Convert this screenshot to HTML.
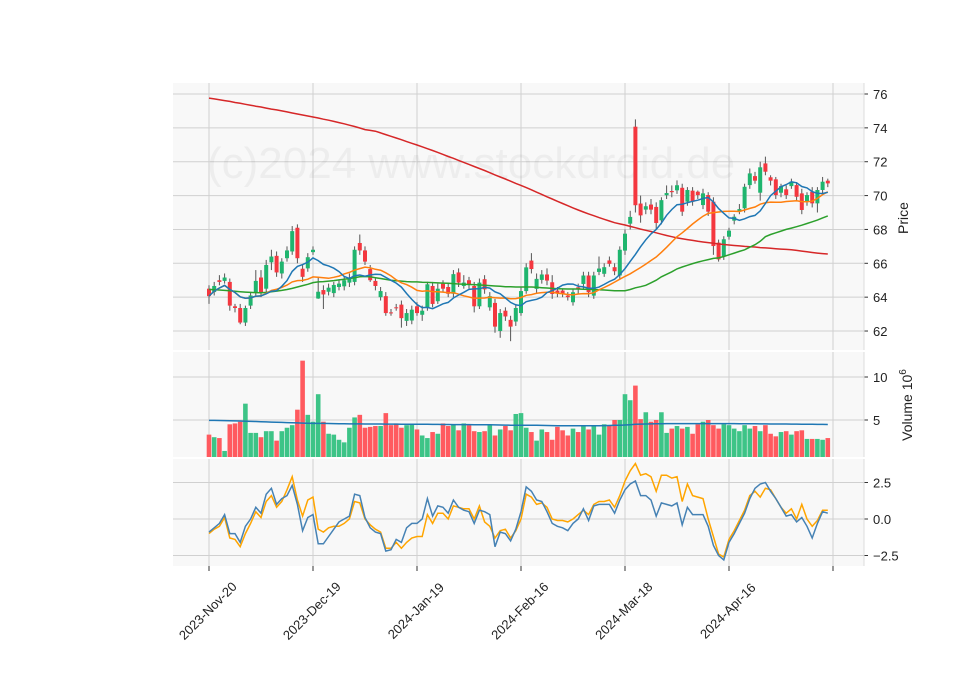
<!DOCTYPE html>
<html><head><meta charset="utf-8">
<style>
html,body{margin:0;padding:0;background:#fff;}
svg{display:block;font-family:"Liberation Sans","DejaVu Sans",sans-serif;}
</style></head>
<body>
<svg id="chart" width="960" height="690" viewBox="0 0 960 690" xmlns="http://www.w3.org/2000/svg"></svg>
<script>
const dates=["2023-Nov-20","2023-Dec-19","2024-Jan-19","2024-Feb-16","2024-Mar-18","2024-Apr-16"];
const dateIdx=[0,20,40,60,80,100];
const priceTicks=[62,64,66,68,70,72,74,76];
const volTicks=[5,10];
const macdTicks=[-2.5,0,2.5];
const macdTickLabels=["−2.5","0.0","2.5"];
const opens=[64.5,64.3,65.0,64.96,64.9,63.46,63.36,62.5,63.5,64.3,65.16,64.5,66.06,66.44,65.4,66.3,66.7,68.1,65.68,65.7,66.66,63.92,64.42,64.32,64.24,64.6,64.64,64.86,64.9,67.2,66.76,65.66,64.96,64.0,64.06,63.1,63.4,63.56,62.6,62.62,63.46,62.96,63.36,64.66,63.76,64.8,64.6,64.2,65.46,64.66,65.0,64.66,63.46,65.06,63.4,63.66,62.0,63.2,62.66,62.56,63.06,64.36,66.16,64.49,65.02,65.34,64.88,64.39,64.39,64.09,63.7,64.58,64.78,65.28,64.09,65.49,65.38,66.17,65.77,65.28,66.75,68.34,74.07,69.53,69.17,69.47,69.33,68.54,70.02,70.27,70.31,70.46,69.64,70.29,70.23,69.44,70.03,69.64,67.22,66.4,67.57,68.52,69.05,69.25,70.62,71.15,70.17,71.9,71.08,70.96,70.17,70.37,70.56,70.62,70.13,69.64,70.23,69.54,70.33,70.88];
const closes=[64.06,64.66,64.9,65.16,63.5,63.36,62.5,63.36,64.1,64.96,64.26,65.9,66.4,65.46,66.1,66.76,67.9,66.3,65.2,66.36,66.8,64.32,64.16,64.56,64.72,64.8,65.0,65.16,66.8,66.76,66.1,65.0,64.66,64.36,63.06,63.06,63.36,62.76,63.06,63.26,63.06,63.2,64.76,63.6,64.5,64.5,64.2,65.36,64.86,64.86,64.76,63.46,64.86,64.46,64.06,62.26,63.06,62.86,62.26,63.36,64.36,65.76,65.66,65.08,65.34,64.98,64.19,64.23,64.19,64.0,64.29,64.49,65.28,64.29,65.28,65.69,65.77,65.97,65.53,66.8,67.75,68.74,69.43,68.83,69.37,69.17,68.38,69.73,70.15,70.2,70.61,69.05,70.33,69.64,70.03,70.13,69.05,67.02,66.23,67.42,67.93,68.75,69.2,70.52,71.31,70.88,71.67,71.41,70.88,70.03,70.56,70.03,70.82,69.93,69.15,70.03,69.54,70.33,70.82,70.72];
const highs=[64.7,64.9,65.3,65.4,65.1,63.6,63.6,63.5,64.3,65.6,65.6,66.2,66.8,66.7,66.3,67.0,68.2,68.3,65.9,66.6,67.0,65.2,64.7,64.8,64.9,65.0,65.2,65.4,67.0,67.7,67.0,65.9,65.1,64.6,64.3,63.3,63.6,63.8,63.3,63.5,63.7,63.5,64.9,64.9,64.8,65.0,64.8,65.6,65.7,65.3,65.2,64.9,65.1,65.3,64.3,63.9,63.3,63.4,62.9,63.6,64.6,66.0,66.6,65.4,65.6,65.7,65.3,64.6,64.5,64.3,64.5,64.8,65.5,65.5,65.5,66.4,66.0,66.4,66.0,67.0,68.0,69.1,74.5,70.0,69.6,69.8,69.6,69.9,70.6,70.6,70.9,70.7,70.5,70.5,70.3,70.4,70.2,69.9,67.4,67.6,68.1,68.9,69.5,70.7,71.6,71.4,72.0,72.3,71.2,71.1,70.7,70.6,71.0,70.8,70.4,70.2,70.5,70.5,71.1,71.0];
const lows=[63.6,64.1,64.7,64.8,63.2,63.1,62.4,62.3,63.3,64.1,64.0,64.3,65.6,65.2,65.1,66.1,66.5,66.0,64.9,65.5,66.5,63.9,63.3,64.1,64.0,64.4,64.4,64.6,64.7,66.5,65.9,64.9,64.4,63.8,62.9,62.9,63.2,62.2,62.3,62.4,62.9,62.6,63.2,63.4,63.6,64.3,64.0,64.0,64.6,64.5,64.5,63.1,63.3,64.2,63.2,61.9,61.6,62.6,61.4,62.3,62.9,64.2,65.4,64.2,64.8,64.7,63.9,64.0,64.0,63.8,63.5,64.2,64.5,64.0,63.9,65.3,65.2,65.8,65.3,65.1,66.5,68.0,69.0,68.4,68.9,68.9,68.0,68.3,69.8,69.9,70.1,68.8,69.4,69.4,69.8,69.2,68.8,66.5,66.1,66.2,67.4,68.3,68.9,69.0,70.4,70.7,69.7,71.2,70.6,69.8,69.9,69.8,70.4,69.7,68.9,69.4,69.3,69.0,70.1,70.5];
const ma50=[64.46,64.44,64.42,64.4,64.38,64.35,64.32,64.3,64.28,64.27,64.26,64.28,64.32,64.36,64.4,64.45,64.52,64.6,64.68,64.76,64.86,64.9,64.92,64.95,64.98,65.02,65.06,65.1,65.15,65.2,65.22,65.2,65.15,65.1,65.05,65.0,64.97,64.95,64.92,64.9,64.9,64.88,64.87,64.86,64.84,64.83,64.82,64.8,64.78,64.76,64.75,64.74,64.72,64.7,64.68,64.66,64.64,64.62,64.61,64.6,64.6,64.6,64.6,64.58,64.56,64.54,64.52,64.5,64.49,64.48,64.48,64.48,64.47,64.46,64.45,64.44,64.42,64.4,64.38,64.38,64.38,64.45,64.55,64.62,64.7,64.85,65.0,65.2,65.35,65.5,65.67,65.78,65.88,65.98,66.07,66.15,66.22,66.29,66.32,66.4,66.5,66.6,66.7,66.8,66.95,67.1,67.3,67.57,67.7,67.8,67.9,68.0,68.08,68.16,68.25,68.35,68.45,68.55,68.68,68.8];
const ma200=[75.76,75.71,75.66,75.61,75.56,75.5,75.45,75.39,75.34,75.28,75.23,75.17,75.11,75.06,75.0,74.94,74.88,74.82,74.76,74.7,74.64,74.58,74.51,74.45,74.38,74.31,74.24,74.16,74.08,73.99,73.9,73.85,73.8,73.7,73.6,73.5,73.4,73.3,73.19,73.09,72.99,72.88,72.77,72.66,72.55,72.43,72.31,72.2,72.08,71.96,71.84,71.72,71.6,71.48,71.35,71.22,71.1,70.98,70.85,70.72,70.6,70.47,70.34,70.2,70.07,69.93,69.8,69.66,69.53,69.4,69.27,69.15,69.03,68.92,68.81,68.7,68.6,68.5,68.4,68.33,68.26,68.18,68.1,68.02,67.95,67.88,67.8,67.72,67.64,67.57,67.5,67.45,67.4,67.35,67.3,67.26,67.22,67.18,67.14,67.11,67.08,67.05,67.03,67.0,66.98,66.96,66.93,66.91,66.89,66.86,66.84,66.82,66.8,66.76,66.72,66.68,66.64,66.6,66.57,66.55];
const volumes=[3.3,3.0,2.9,1.4,4.5,4.6,4.8,6.9,3.5,3.5,3.0,3.7,3.7,2.6,3.7,4.1,4.4,6.2,11.9,5.6,4.8,8.0,4.8,3.4,3.3,2.7,2.4,4.1,5.3,5.6,4.1,4.2,4.3,4.3,5.8,4.4,4.6,4.1,4.4,4.5,3.9,3.2,2.9,3.6,3.4,4.6,4.3,4.5,3.8,4.6,4.4,3.7,3.6,3.7,4.4,3.2,3.9,4.3,3.8,5.7,5.8,4.1,3.6,2.6,3.9,3.6,2.7,4.2,3.8,3.2,4.0,3.6,4.4,3.9,4.4,3.3,4.5,4.4,5.0,5.0,8.0,7.3,9.0,5.1,5.9,4.8,5.0,5.9,3.5,4.0,4.3,4.0,4.2,3.4,4.5,4.8,5.0,4.4,4.0,4.5,4.4,4.0,3.7,4.4,4.0,4.3,3.7,4.4,3.4,3.1,3.6,3.7,3.3,3.7,3.8,2.8,2.8,2.8,2.7,2.9];
const volMA=[4.95,4.95,4.94,4.93,4.92,4.9,4.88,4.86,4.84,4.82,4.8,4.78,4.76,4.74,4.72,4.7,4.68,4.66,4.64,4.62,4.6,4.6,4.6,4.59,4.58,4.57,4.56,4.55,4.55,4.55,4.54,4.54,4.53,4.53,4.52,4.52,4.52,4.51,4.51,4.5,4.5,4.5,4.5,4.49,4.49,4.48,4.48,4.47,4.47,4.46,4.46,4.45,4.45,4.44,4.44,4.43,4.42,4.41,4.4,4.4,4.4,4.4,4.39,4.38,4.37,4.36,4.35,4.34,4.33,4.32,4.32,4.32,4.32,4.32,4.33,4.34,4.35,4.36,4.38,4.4,4.42,4.45,4.5,4.52,4.54,4.55,4.56,4.57,4.58,4.58,4.58,4.58,4.58,4.58,4.58,4.58,4.58,4.58,4.58,4.58,4.58,4.58,4.57,4.57,4.56,4.56,4.55,4.55,4.54,4.54,4.53,4.53,4.52,4.52,4.51,4.5,4.5,4.49,4.49,4.48];
const macdA=[-0.9,-0.6,-0.3,0.3,-1.0,-1.0,-1.6,-0.5,0,0.8,0.4,1.7,2.1,1.0,1.4,1.6,2.3,1.0,-0.8,0.1,0.3,-1.7,-1.7,-1.2,-0.7,-0.2,0,0.2,1.7,1.6,0.1,-0.6,-0.9,-1.0,-2.2,-2.1,-1.4,-1.6,-0.6,-0.3,-0.3,0.0,1.4,0.2,0.9,0.8,0.4,1.3,0.8,0.6,0.5,-0.3,0.6,0.5,0.3,-1.9,-0.9,-1.0,-1.5,-0.7,0.5,2.2,1.9,1.3,1.2,0.5,-0.3,-0.5,-0.6,-0.8,-0.3,0,0.7,-0.1,0.9,1.0,1.0,1.0,0.4,1.3,2.0,2.4,2.6,1.6,1.6,1.3,0.2,1.1,1.0,0.9,1.1,-0.4,0.8,0.3,0.3,0.3,-0.5,-1.8,-2.5,-2.8,-1.6,-1.0,-0.3,0.4,1.4,2.1,2.4,2.5,1.9,1.4,0.8,0.2,0.3,-0.2,0.1,-0.5,-1.3,-0.3,0.5,0.4];
const macdB=[-1.0,-0.7,-0.5,0.1,-1.3,-1.4,-1.9,-1.0,-0.3,0.5,0.1,1.2,1.6,0.8,1.2,2.0,2.9,1.3,0.2,1.3,1.5,-0.7,-0.9,-0.6,-0.5,-0.5,-0.3,0,1.2,1.1,0.0,-0.4,-0.7,-0.9,-2.0,-2.0,-1.6,-2.0,-1.6,-1.3,-1.2,-1.2,0.3,-0.3,0.4,0.4,0.0,0.9,0.8,0.7,0.7,0.0,0.9,-0.2,-0.5,-1.3,-0.8,-0.7,-1.3,-0.8,0.0,1.7,1.5,1.0,1.1,0.8,0.0,-0.1,-0.1,-0.2,0.0,0.3,0.6,0.3,1.0,1.2,1.2,1.3,0.8,1.6,2.6,3.3,3.8,3.0,3.1,2.9,1.9,3.0,3.0,2.8,2.9,1.2,2.4,1.6,1.5,1.4,0.0,-1.2,-2.4,-2.6,-1.4,-0.8,-0.1,0.6,1.6,1.9,1.5,2.1,2.0,1.4,0.8,0.4,0.7,0.0,1.0,0.0,-0.5,-0.1,0.6,0.6];

const NS="http://www.w3.org/2000/svg";
const svg=document.getElementById('chart');
function mk(tag,attrs,parent){const e=document.createElementNS(NS,tag);for(const k in attrs)e.setAttribute(k,attrs[k]);(parent||svg).appendChild(e);return e;}
const L=173,R=864;
const xOf=i=>209+i*5.2;
const yP=p=>94+(76-p)*16.93;
const yV=v=>463-v*8.6;
const yM=v=>519-v*14.6;
const panels=[[83,350,'price-panel'],[352,457,'volume-panel'],[459,566,'macd-panel']];
panels.forEach(p=>{const r=mk('rect',{x:L,y:p[0],width:R-L,height:p[1]-p[0],fill:'#f8f8f8'});

});
const vgrid=dateIdx.concat([120]);
vgrid.forEach(i=>{panels.forEach(p=>{mk('line',{x1:xOf(i),x2:xOf(i),y1:p[0],y2:p[1],stroke:'#d0d0d0','stroke-width':1});});});
function hgrid(vals,yf,top,bot,labels){vals.forEach((v,k)=>{const y=yf(v);if(y<top||y>bot)return;
mk('line',{x1:L,x2:R,y1:y,y2:y,stroke:'#d0d0d0','stroke-width':1});
mk('line',{x1:R,x2:R+4,y1:y,y2:y,stroke:'#333','stroke-width':1});
const t=mk('text',{x:R+9,y:y+5,'font-size':13,fill:'#222'});t.textContent=labels?labels[k]:v;

});}
hgrid(priceTicks,yP,83,350);
hgrid(volTicks,yV,352,457);
hgrid(macdTicks,yM,459,566,macdTickLabels);
const wm=mk('text',{x:207,y:178,'font-size':44,fill:'#000','fill-opacity':0.045});wm.textContent='(c)2024 www.stockdroid.de';


closes.forEach((c,i)=>{const o=opens[i];const up=c>=o;const col=up?'#1fb56e':'#f4373f';const x=xOf(i);
const g=mk('g',{});


mk('line',{x1:x,x2:x,y1:yP(highs[i]),y2:yP(lows[i]),stroke:'#555','stroke-width':1},g);
const t=Math.min(yP(o),yP(c));const h=Math.max(1,Math.abs(yP(o)-yP(c)));
mk('rect',{x:x-2,y:t,width:4,height:h,fill:col},g);});
function line(arr,yf,col,name,w){const d=arr.map((v,i)=>(i?'L':'M')+xOf(i).toFixed(1)+' '+yf(v).toFixed(1)).join(' ');
const p=mk('path',{d:d,fill:'none',stroke:col,'stroke-width':w||1.5});

}
function sma(n){return closes.map((c,i)=>{const s=closes.slice(Math.max(0,i-n+1),i+1);return s.reduce((a,b)=>a+b,0)/s.length;});}
line(ma200,yP,'#d62728','ma200-line');
line(ma50,yP,'#2ca02c','ma50-line');
line(sma(20),yP,'#ff7f0e','ma20-line');
line(sma(10),yP,'#1f77b4','ma10-line');
volumes.forEach((v,i)=>{const up=closes[i]>=opens[i];const y=Math.max(352,yV(v));
const r=mk('rect',{x:xOf(i)-2.3,y:y,width:4.6,height:Math.max(0,457-y),fill:up?'#3dc487':'#ff5a5f'});

});
line(volMA,yV,'#1f77b4','volume-ma-line');
line(macdB,yM,'#ffa500','macd-signal-line');
line(macdA,yM,'#4682b4','macd-line');
panels.forEach(p=>{mk('line',{x1:R,x2:R,y1:p[0],y2:p[1],stroke:'#ddd'});});
dates.forEach((d,k)=>{const x=xOf(dateIdx[k]);mk('line',{x1:x,x2:x,y1:566,y2:571,stroke:'#333'});
const t=mk('text',{x:0,y:0,'font-size':13,fill:'#222','text-anchor':'middle',transform:`translate(${x+2},${614}) rotate(-45)`});t.textContent=d;

});
mk('line',{x1:xOf(120),x2:xOf(120),y1:566,y2:571,stroke:'#333'});
const pt=mk('text',{x:0,y:0,'font-size':14,fill:'#222','text-anchor':'middle',transform:'translate(908,218) rotate(-90)'});pt.textContent='Price';


const vt=mk('text',{x:0,y:0,'font-size':14,fill:'#222','text-anchor':'middle',transform:'translate(912,405) rotate(-90)'});vt.innerHTML='Volume  10<tspan dy="-6" font-size="10">6</tspan>';


</script>
</body></html>
